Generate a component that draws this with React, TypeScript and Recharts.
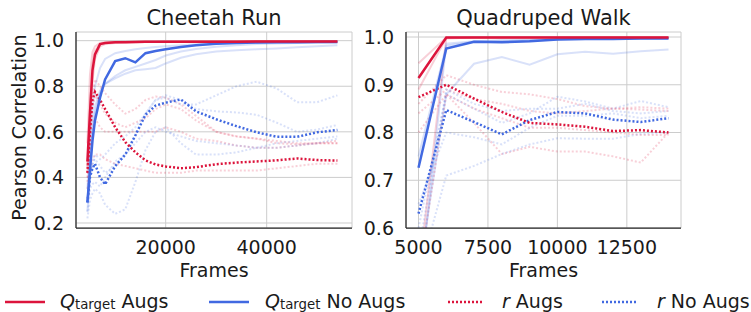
import { LineChart, Line, XAxis, YAxis, CartesianGrid } from 'recharts'

const RED = '#dc143c'
const BLUE = '#4169e1'
const INK = '#1a1a1a'
const FONT = '"DejaVu Sans", "Liberation Sans", sans-serif'

// Cheetah Run
const cheetahFrames = [4500, 5000, 5500, 6000, 7000, 8000, 10000, 12000, 14000, 16000, 18000, 20000, 23000, 26000, 30000, 34000, 38000, 42000, 46000, 50000, 54000]
const cheetahQAug = [0.47, 0.68, 0.87, 0.94, 0.985, 0.99, 0.993, 0.993, 0.994, 0.995, 0.995, 0.995, 0.995, 0.995, 0.995, 0.995, 0.996, 0.996, 0.996, 0.996, 0.996]
const cheetahQNoAug = [0.29, 0.43, 0.56, 0.65, 0.75, 0.83, 0.91, 0.923, 0.905, 0.945, 0.955, 0.962, 0.972, 0.98, 0.986, 0.99, 0.992, 0.993, 0.993, 0.994, 0.994]
const cheetahRAug = [0.42, 0.6, 0.74, 0.775, 0.74, 0.7, 0.62, 0.555, 0.51, 0.475, 0.457, 0.448, 0.44, 0.445, 0.458, 0.465, 0.47, 0.475, 0.483, 0.476, 0.474]
const cheetahRNoAug = [0.29, 0.4, 0.44, 0.46, 0.4, 0.37, 0.45, 0.5, 0.585, 0.675, 0.715, 0.728, 0.742, 0.69, 0.655, 0.625, 0.598, 0.578, 0.578, 0.598, 0.608]

const cheetahQAugSeeds = [
  [0.55, 0.85, 0.95, 0.975, 0.99, 0.993, 0.994, 0.995, 0.995, 0.995, 0.995, 0.996, 0.996, 0.996, 0.996, 0.996, 0.996, 0.996, 0.997, 0.997, 0.997],
  [0.45, 0.62, 0.82, 0.92, 0.975, 0.985, 0.99, 0.992, 0.993, 0.994, 0.994, 0.995, 0.995, 0.995, 0.995, 0.996, 0.996, 0.996, 0.996, 0.996, 0.996],
  [0.42, 0.7, 0.9, 0.955, 0.985, 0.99, 0.993, 0.994, 0.994, 0.995, 0.995, 0.995, 0.995, 0.996, 0.996, 0.996, 0.996, 0.996, 0.996, 0.996, 0.996],
]
const cheetahQNoAugSeeds = [
  [0.35, 0.55, 0.7, 0.8, 0.88, 0.92, 0.945, 0.955, 0.962, 0.968, 0.972, 0.976, 0.98, 0.984, 0.987, 0.99, 0.991, 0.992, 0.993, 0.994, 0.995],
  [0.25, 0.42, 0.58, 0.68, 0.77, 0.81, 0.845, 0.87, 0.885, 0.9, 0.915, 0.935, 0.952, 0.963, 0.973, 0.98, 0.985, 0.988, 0.99, 0.991, 0.992],
  [0.3, 0.5, 0.63, 0.71, 0.78, 0.81, 0.835, 0.855, 0.87, 0.875, 0.88, 0.9, 0.925, 0.94, 0.952, 0.958, 0.962, 0.966, 0.971, 0.976, 0.98],
]
const cheetahRAugSeeds = [
  [0.45, 0.6, 0.75, 0.83, 0.8, 0.77, 0.72, 0.68, 0.7, 0.74, 0.755, 0.75, 0.72, 0.67, 0.6, 0.58, 0.57, 0.56, 0.55, 0.55, 0.55],
  [0.4, 0.55, 0.7, 0.76, 0.72, 0.68, 0.64, 0.62, 0.64, 0.66, 0.7, 0.72, 0.7, 0.65, 0.6, 0.58, 0.57, 0.55, 0.545, 0.55, 0.56],
  [0.38, 0.5, 0.6, 0.66, 0.62, 0.6, 0.6, 0.6, 0.6, 0.6, 0.6, 0.62, 0.6, 0.57, 0.56, 0.54, 0.53, 0.53, 0.54, 0.55, 0.55],
  [0.35, 0.42, 0.48, 0.5, 0.5, 0.48, 0.46, 0.45, 0.44, 0.43, 0.42, 0.42, 0.42, 0.43, 0.43, 0.43, 0.43, 0.44, 0.45, 0.46, 0.46],
]
const cheetahRNoAugSeeds = [
  [0.3, 0.4, 0.45, 0.5, 0.48, 0.5, 0.55, 0.58, 0.62, 0.68, 0.74, 0.75, 0.72, 0.72, 0.76, 0.8, 0.82, 0.79, 0.73, 0.73, 0.76],
  [0.22, 0.3, 0.33, 0.35, 0.33, 0.28, 0.24, 0.26, 0.38, 0.52, 0.6, 0.62, 0.55, 0.5, 0.5, 0.51, 0.53, 0.55, 0.56, 0.57, 0.58],
  [0.3, 0.42, 0.46, 0.48, 0.45, 0.42, 0.45, 0.5, 0.58, 0.68, 0.74, 0.76, 0.74, 0.7, 0.69, 0.685, 0.675, 0.64, 0.6, 0.61, 0.63],
  [0.25, 0.35, 0.37, 0.38, 0.36, 0.4, 0.47, 0.5, 0.55, 0.6, 0.62, 0.6, 0.58, 0.56, 0.55, 0.54, 0.53, 0.53, 0.54, 0.55, 0.57],
]

// Quadruped Walk
const quadFrames = [5000, 6000, 7000, 8000, 9000, 10000, 11000, 12000, 13000, 14000]
const quadQAug = [0.914, 0.999, 0.999, 0.999, 0.999, 0.999, 0.999, 0.999, 0.999, 0.999]
const quadQNoAug = [0.726, 0.976, 0.99, 0.989, 0.991, 0.995, 0.996, 0.996, 0.997, 0.997]
const quadRAug = [0.874, 0.9, 0.871, 0.843, 0.82, 0.817, 0.812, 0.803, 0.805, 0.8]
const quadRNoAug = [0.63, 0.847, 0.822, 0.796, 0.826, 0.843, 0.84, 0.827, 0.822, 0.83]

const quadQAugSeeds = [
  [0.945, 0.999, 0.999, 0.999, 0.999, 0.999, 0.999, 0.999, 0.999, 0.999],
  [0.89, 0.998, 0.999, 0.999, 0.999, 0.999, 0.999, 0.999, 0.999, 0.999],
  [0.5, 0.997, 0.999, 0.999, 0.999, 0.999, 0.999, 0.999, 0.999, 0.999],
]
const quadQNoAugSeeds = [
  [0.75, 0.982, 0.99, 0.992, 0.993, 0.995, 0.996, 0.996, 0.997, 0.997],
  [0.45, 0.986, 0.991, 0.993, 0.994, 0.996, 0.997, 0.997, 0.997, 0.998],
  [0.5, 0.88, 0.944, 0.958, 0.942, 0.964, 0.969, 0.965, 0.97, 0.974],
]
const quadRAugSeeds = [
  [0.86, 0.92, 0.9, 0.885, 0.88, 0.87, 0.855, 0.85, 0.848, 0.845],
  [0.84, 0.89, 0.87, 0.86, 0.845, 0.84, 0.845, 0.85, 0.853, 0.85],
  [0.8, 0.88, 0.82, 0.755, 0.77, 0.76, 0.76, 0.75, 0.737, 0.8],
  [0.5, 0.88, 0.85, 0.83, 0.81, 0.81, 0.805, 0.8, 0.795, 0.795],
]
const quadRNoAugSeeds = [
  [0.6, 0.88, 0.85, 0.82, 0.84, 0.875, 0.865, 0.85, 0.866, 0.853],
  [0.5, 0.71, 0.73, 0.755, 0.775, 0.788, 0.787, 0.787, 0.797, 0.8],
  [0.65, 0.8, 0.79, 0.775, 0.81, 0.835, 0.835, 0.84, 0.83, 0.835],
  [0.55, 0.89, 0.86, 0.845, 0.85, 0.85, 0.86, 0.845, 0.84, 0.845],
]

const cheetahXTicks = [20000, 40000]
const cheetahYTicks = [0.2, 0.4, 0.6, 0.8, 1.0]
const quadXTicks = [5000, 7500, 10000, 12500]
const quadYTicks = [0.6, 0.7, 0.8, 0.9, 1.0]

type SeriesDef = { key: string; color: string; dotted: boolean; faint: boolean }

function buildPanel(
  xs: number[],
  means: [number[], number[], number[], number[]],
  seeds: [number[][], number[][], number[][], number[][]],
) {
  const styles = [
    { color: RED, dotted: false },
    { color: BLUE, dotted: false },
    { color: RED, dotted: true },
    { color: BLUE, dotted: true },
  ]
  const cols: Record<string, number[]> = {}
  const faint: SeriesDef[] = []
  const bold: SeriesDef[] = []
  seeds.forEach((group, g) =>
    group.forEach((s, i) => {
      const key = `s${g}_${i}`
      cols[key] = s
      faint.push({ key, ...styles[g], faint: true })
    }),
  )
  // draw order: r No Augs, r Augs, Q No Augs, Q Augs on top
  ;[3, 2, 1, 0].forEach((g) => {
    const key = `m${g}`
    cols[key] = means[g]
    bold.push({ key, ...styles[g], faint: false })
  })
  const rows = xs.map((x, i) => {
    const row: Record<string, number> = { x }
    for (const k in cols) row[k] = cols[k][i]
    return row
  })
  return { rows, series: [...faint, ...bold] }
}

const cheetah = buildPanel(
  cheetahFrames,
  [cheetahQAug, cheetahQNoAug, cheetahRAug, cheetahRNoAug],
  [cheetahQAugSeeds, cheetahQNoAugSeeds, cheetahRAugSeeds, cheetahRNoAugSeeds],
)
const quad = buildPanel(
  quadFrames,
  [quadQAug, quadQNoAug, quadRAug, quadRNoAug],
  [quadQAugSeeds, quadQNoAugSeeds, quadRAugSeeds, quadRNoAugSeeds],
)

const tick = { fontSize: 19, fill: INK, fontFamily: FONT }
const spine = { stroke: '#262626', strokeWidth: 1.25 }

function Panel({
  data,
  width,
  yAxisWidth,
  marginRight,
  xDomain,
  xTicks,
  yDomain,
  yTicks,
}: {
  data: ReturnType<typeof buildPanel>
  width: number
  yAxisWidth: number
  marginRight: number
  xDomain: [number, number]
  xTicks: number[]
  yDomain: [number, number]
  yTicks: number[]
}) {
  return (
    <LineChart width={width} height={260} data={data.rows} margin={{ top: 32, right: marginRight, bottom: 0, left: 0 }}>
      <CartesianGrid stroke="#cccccc" strokeWidth={1} />
      <XAxis
        dataKey="x"
        type="number"
        domain={xDomain}
        ticks={xTicks}
        interval={0}
        allowDataOverflow
        height={32}
        tickSize={0}
        tickMargin={13}
        tick={tick}
        axisLine={spine}
        tickLine={false}
      />
      <YAxis
        type="number"
        domain={yDomain}
        ticks={yTicks}
        interval={0}
        allowDataOverflow
        width={yAxisWidth}
        tickSize={0}
        tickMargin={12}
        tick={tick}
        axisLine={spine}
        tickLine={false}
        tickFormatter={(v: number) => v.toFixed(1)}
      />
      {data.series.map((s) => (
        <Line
          key={s.key}
          type="linear"
          dataKey={s.key}
          stroke={s.color}
          strokeOpacity={s.faint ? 0.2 : 1}
          strokeWidth={s.faint ? 2 : 2.5}
          strokeDasharray={s.dotted ? '2 2' : undefined}
          dot={false}
          activeDot={false}
          isAnimationActive={false}
        />
      ))}
    </LineChart>
  )
}

const legendItems = [
  { color: RED, dotted: false, x0: 5, x1: 45, tx: 60, sym: 'Q', sub: 'target', label: 'Augs' },
  { color: BLUE, dotted: false, x0: 209, x1: 249, tx: 265, sym: 'Q', sub: 'target', label: 'No Augs' },
  { color: RED, dotted: true, x0: 448, x1: 483, tx: 502, sym: 'r', sub: '', label: 'Augs' },
  { color: BLUE, dotted: true, x0: 602, x1: 638, tx: 657, sym: 'r', sub: '', label: 'No Augs' },
]

export default function App() {
  return (
    <div style={{ position: 'absolute', left: 0, top: 0, width: 751, height: 312, background: '#fff', fontFamily: FONT }}>
      <div style={{ position: 'absolute', left: 0, top: 0 }}>
        <Panel
          data={cheetah}
          width={360}
          yAxisWidth={76}
          marginRight={8}
          xDomain={[2240, 56890]}
          xTicks={cheetahXTicks}
          yDomain={[0.178, 1.038]}
          yTicks={cheetahYTicks}
        />
      </div>
      <div style={{ position: 'absolute', left: 360, top: 0 }}>
        <Panel
          data={quad}
          width={330}
          yAxisWidth={46}
          marginRight={9}
          xDomain={[4550, 14450]}
          xTicks={quadXTicks}
          yDomain={[0.6, 1.0105]}
          yTicks={quadYTicks}
        />
      </div>
      <svg width={751} height={312} style={{ position: 'absolute', left: 0, top: 0, pointerEvents: 'none' }} fontFamily={FONT} fill={INK}>
        <text x={214} y={25} fontSize={21} textAnchor="middle">Cheetah Run</text>
        <text x={543.5} y={25} fontSize={21} textAnchor="middle">Quadruped Walk</text>
        <text x={214} y={277} fontSize={19} textAnchor="middle">Frames</text>
        <text x={543.5} y={277} fontSize={19} textAnchor="middle">Frames</text>
        <text transform="translate(26,127.5) rotate(-90)" fontSize={19} textAnchor="middle">Pearson Correlation</text>
        {legendItems.map((it) => (
          <g key={it.tx}>
            <line
              x1={it.x0}
              x2={it.x1}
              y1={302}
              y2={302}
              stroke={it.color}
              strokeWidth={2.5}
              strokeDasharray={it.dotted ? '2 2' : undefined}
            />
            <text x={it.tx} y={307.5} fontSize={19}>
              <tspan fontStyle="italic">{it.sym}</tspan>
              {it.sub ? (
                <>
                  <tspan fontSize={13.3} dy={1.8}>{it.sub}</tspan>
                  <tspan dy={-1.8}>{' ' + it.label}</tspan>
                </>
              ) : (
                <tspan>{' ' + it.label}</tspan>
              )}
            </text>
          </g>
        ))}
      </svg>
    </div>
  )
}
